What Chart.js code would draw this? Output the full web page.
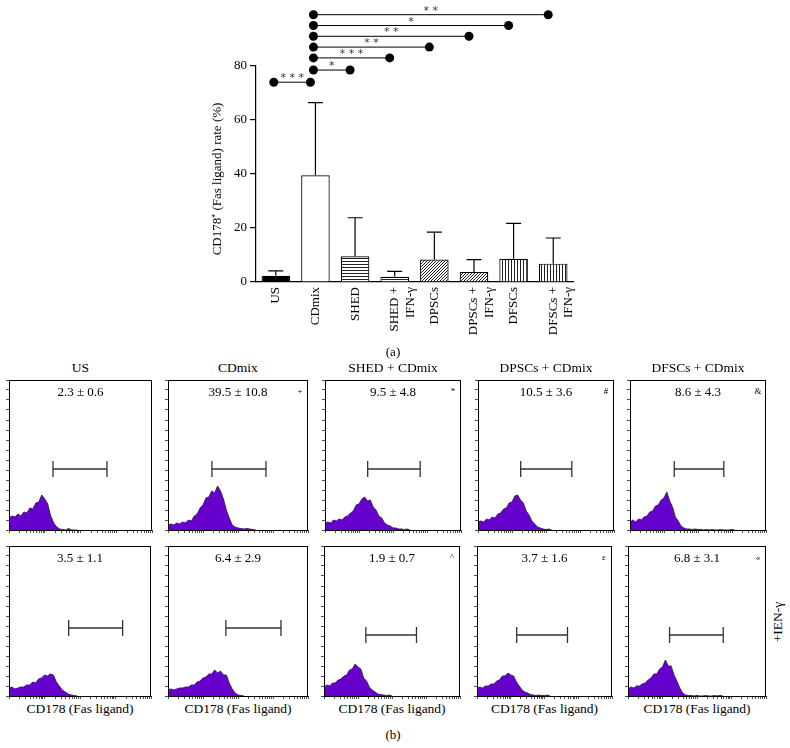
<!DOCTYPE html>
<html lang="en">
<head>
<meta charset="UTF-8">
<title>CD178 (Fas ligand) expression</title>
<script src="https://cdn.jsdelivr.net/npm/chart.js"></script>
<style>
  body { margin: 0; background: #fff; color: #000; font-family: "Liberation Serif", serif; }
  #fig { position: relative; width: 790px; height: 748px; overflow: hidden; }
  #fig canvas { position: absolute; }
  .lbl { position: absolute; white-space: nowrap; transform: translate(-50%, -50%); font-size: 13px; line-height: 1; }
</style>
</head>
<body>
<div id="fig"></div>
<script>
// ---- (a) bar chart data
const groups = ['US', 'CDmix', 'SHED', ['SHED +', 'IFN-γ'], 'DPSCs', ['DPSCs +', 'IFN-γ'], 'DFSCs', ['DFSCs +', 'IFN-γ']];
const meanRate = [2.3, 39.5, 9.5, 1.9, 8.3, 3.7, 8.6, 6.8];
const sdRate = [1.8, 26.9, 14.3, 2.0, 10.2, 4.6, 13.1, 9.5];
const yTicks = [0, 20, 40, 60, 80];
const fillKind = ['solid', 'white', 'h', 'h', 'd', 'd', 'v', 'v'];

// significance brackets (category index from / to, level in %, stars)
const sigFrom = [0, 1, 1, 1, 1, 1, 1];
const sigTo = [1, 2, 3, 4, 5, 6, 7];
const sigLevel = [74, 78.5, 83, 87, 91, 95, 99];
const sigStars = ['***', '*', '***', '**', '**', '*', '**'];

// ---- (b) flow histograms
const panelTitles = ['US', 'CDmix', 'SHED + CDmix', 'DPSCs + CDmix', 'DFSCs + CDmix'];
const statsTop = ['2.3 ± 0.6', '39.5 ± 10.8', '9.5 ± 4.8', '10.5 ± 3.6', '8.6 ± 4.3'];
const marksTop = ['', '+', '*', '#', '&'];
const statsIfn = ['3.5 ± 1.1', '6.4 ± 2.9', '1.9 ± 0.7', '3.7 ± 1.6', '6.8 ± 3.1'];
const marksIfn = ['', '', '^', 'ε', '«'];

// gate limits on the CD178 channel and gate height (counts)
const gateTopLo = [17, 18, 18, 18, 20];
const gateTopHi = [550, 630, 630, 575, 575];
const gateTopY = [61, 61, 61, 61, 61];
const gateIfnLo = [48, 45, 17, 15, 16];
const gateIfnHi = [1585, 1690, 525, 480, 575];
const gateIfnY = [68, 68, 61, 61, 61];

// event counts per channel bin (48 bins across the axis)
const histUS = [12, 14, 13, 16, 14, 18, 17, 22, 21, 27, 28, 35, 31, 26, 14, 7, 3, 1, 0.5, 0, 1.5, 0, 0, 0];
const histCD = [5, 6, 5, 7, 6, 8, 7, 10, 9, 14, 16, 22, 25, 32, 33, 39, 37, 44, 39, 31, 20, 12, 5, 3, 2, 1.5, 1, 1.5, 1, 0.5, 0];
const histSHED = [7, 8, 7, 10, 9, 11, 10, 13, 14, 17, 19, 25, 26, 31, 33, 29, 30, 23, 20, 14, 12, 7, 5, 4, 2, 2, 1, 1, 0.5, 1, 0];
const histDPSC = [8, 9, 8, 11, 10, 13, 12, 16, 17, 21, 22, 27, 28, 34, 35, 30, 27, 19, 15, 9, 6, 3, 2, 1, 0.5, 1, 0];
const histDFSC = [8, 10, 8, 11, 10, 13, 14, 18, 19, 24, 25, 30, 32, 38, 29, 23, 13, 9, 4, 2, 1, 1, 0.5, 1, 0.5, 0.5, 0, 0.5, 0, 0.5, 0, 0, 0.5, 0, 0, 0, 0.5, 0];
const histUSi = [8, 9, 7, 8, 9, 9, 11, 11, 14, 13, 17, 18, 21, 20, 22, 21, 14, 10, 6, 4, 2, 1, 0.5, 0];
const histCDi = [6, 7, 6, 7, 8, 8, 9, 9, 11, 11, 14, 15, 18, 19, 22, 22, 26, 23, 25, 21, 21, 13, 7, 3, 1, 0.5, 0];
const histSHEDi = [9, 11, 10, 13, 13, 16, 17, 20, 21, 26, 27, 32, 29, 27, 18, 15, 9, 6, 4, 2, 1.5, 1, 0.5, 1, 0];
const histDPSCi = [8, 9, 8, 10, 10, 12, 12, 15, 16, 20, 20, 23, 21, 20, 14, 10, 6, 4, 3, 1.5, 1, 0.5, 1, 0.5, 0.5, 1, 0];
const histDFSCi = [7, 9, 8, 10, 10, 12, 13, 16, 18, 22, 22, 27, 29, 36, 30, 30, 21, 15, 8, 3, 1, 0.5, 0.5, 0, 0.5, 0, 0, 0.5, 0, 0, 0.5, 0, 0.5, 0];

const histTop = [histUS, histCD, histSHED, histDPSC, histDFSC];
const histIfn = [histUSi, histCDi, histSHEDi, histDPSCi, histDFSCi];

const FONT = '"Liberation Serif", serif';
const fig = document.getElementById('fig');
Chart.defaults.font.family = FONT;
Chart.defaults.color = '#000';

function addLabel(text, x, y, size, rotate) {
    const d = document.createElement('div');
    d.className = 'lbl';
    d.textContent = text;
    d.style.left = x + 'px';
    d.style.top = y + 'px';
    if (size) d.style.fontSize = size + 'px';
    if (rotate) d.style.transform = 'translate(-50%, -50%) rotate(' + rotate + 'deg)';
    fig.appendChild(d);
}

function makeFill(ctx, kind) {
    if (kind === 'solid') return '#000';
    if (kind === 'white') return '#fff';
    const c = document.createElement('canvas');
    c.width = 3; c.height = 3;
    const g = c.getContext('2d');
    g.fillStyle = '#fff';
    g.fillRect(0, 0, 3, 3);
    g.fillStyle = '#222';
    if (kind === 'h') g.fillRect(0, 0, 3, 1);
    if (kind === 'v') g.fillRect(0, 0, 1, 3);
    if (kind === 'd') { g.fillRect(0, 2, 1, 1); g.fillRect(1, 1, 1, 1); g.fillRect(2, 0, 1, 1); }
    return ctx.createPattern(c, 'repeat');
}

// ---------- (a)
const barCanvas = document.createElement('canvas');
barCanvas.width = 400; barCanvas.height = 345;
barCanvas.style.left = '190px'; barCanvas.style.top = '0px';
fig.appendChild(barCanvas);
const bctx = barCanvas.getContext('2d');

const barExtras = {
    id: 'barExtras',
    afterDatasetsDraw(chart) {
        const { ctx, scales: { y } } = chart;
        ctx.save();
        ctx.strokeStyle = '#000';
        ctx.lineWidth = 1.2;
        chart.getDatasetMeta(0).data.forEach((bar, i) => {
            const y0 = y.getPixelForValue(meanRate[i]);
            const y1 = y.getPixelForValue(meanRate[i] + sdRate[i]);
            ctx.beginPath();
            ctx.moveTo(bar.x, y0); ctx.lineTo(bar.x, y1);
            ctx.moveTo(bar.x - 7.5, y1); ctx.lineTo(bar.x + 7.5, y1);
            ctx.stroke();
        });
        ctx.restore();
    },
    afterDraw(chart) {
        const { ctx, chartArea, scales: { x, y } } = chart;
        ctx.save();
        // y title
        ctx.translate(chartArea.left - 38, (chartArea.top + chartArea.bottom) / 2 + 5);
        ctx.rotate(-Math.PI / 2);
        ctx.font = '13px ' + FONT;
        ctx.textAlign = 'center';
        ctx.textBaseline = 'middle';
        ctx.fillStyle = '#000';
        ctx.fillText('CD178⁺ (Fas ligand) rate (%)', 0, 0);
        ctx.restore();

        ctx.save();
        ctx.strokeStyle = '#000';
        ctx.fillStyle = '#000';
        ctx.lineWidth = 1;
        sigFrom.forEach((a, k) => {
            const xa = x.getPixelForValue(a) - 2;
            const xb = x.getPixelForValue(sigTo[k]) - 5;
            const yy = y.getPixelForValue(sigLevel[k]);
            ctx.beginPath();
            ctx.moveTo(xa, yy); ctx.lineTo(xb, yy);
            ctx.stroke();
            [xa, xb].forEach(px => {
                ctx.beginPath();
                ctx.arc(px, yy, 4.5, 0, Math.PI * 2);
                ctx.fill();
            });
            ctx.font = '11px "DejaVu Sans", sans-serif';
            ctx.textAlign = 'center';
            ctx.textBaseline = 'alphabetic';
            ctx.fillStyle = '#333';
            ctx.fillText(sigStars[k].split('').join(' '), (xa + xb) / 2, yy - 1);
            ctx.fillStyle = '#000';
        });
        ctx.restore();
    }
};

new Chart(bctx, {
    type: 'bar',
    data: {
        labels: groups,
        datasets: [{
            data: meanRate,
            backgroundColor: fillKind.map(k => makeFill(bctx, k)),
            borderColor: '#000',
            borderWidth: 1.2,
            barPercentage: 0.72,
            categoryPercentage: 1.0
        }]
    },
    options: {
        responsive: false,
        animation: false,
        events: [],
        layout: { padding: { top: 66, right: 9, left: 0, bottom: 0 } },
        plugins: { legend: { display: false }, tooltip: { enabled: false } },
        scales: {
            x: {
                afterFit: s => { s.height = 63; },
                grid: { drawOnChartArea: false, drawTicks: false },
                border: { color: '#000', width: 1.2 },
                ticks: { minRotation: 90, maxRotation: 90, padding: 5, font: { size: 13 }, color: '#000', autoSkip: false }
            },
            y: {
                min: 0, max: 80,
                afterFit: s => { s.width = 66; },
                afterBuildTicks: s => { s.ticks = yTicks.map(v => ({ value: v })); },
                grid: { drawOnChartArea: false, tickLength: 6, color: '#000', lineWidth: 1.2 },
                border: { color: '#000', width: 1.2 },
                ticks: { padding: 3, font: { size: 13 }, color: '#000' }
            }
        }
    },
    plugins: [barExtras]
});

addLabel('(a)', 393, 351, 13);

// ---------- (b)
const logTicks = [];
for (let e = 0; e < 4; e++) for (let m = 1; m < 10; m++) logTicks.push(m * Math.pow(10, e));
logTicks.push(10000);

const rowTop = [380, 546];
const rowBottom = [530, 696];
const panelLeft = [[9, 168, 325, 478, 630], [9, 168, 324, 477, 628]];
const panelRight = [[152, 308, 461, 614, 766], [151, 308, 460, 612, 766]];

const panelDeco = {
    id: 'panelDeco',
    afterDraw(chart, args, o) {
        const { ctx, chartArea: ca, scales } = chart;
        ctx.save();
        ctx.strokeStyle = '#000';
        ctx.lineWidth = 1;
        ctx.strokeRect(ca.left + 0.5, ca.top + 0.5, ca.right - ca.left - 1, ca.bottom - ca.top);
        // gate
        const gx0 = scales.xl.getPixelForValue(o.lo);
        const gx1 = scales.xl.getPixelForValue(o.hi);
        const gy = scales.y.getPixelForValue(o.gy);
        ctx.strokeStyle = '#333';
        ctx.lineWidth = 1.3;
        ctx.beginPath();
        ctx.moveTo(gx0, gy); ctx.lineTo(gx1, gy);
        ctx.moveTo(gx0, gy - 8); ctx.lineTo(gx0, gy + 8);
        ctx.moveTo(gx1, gy - 8); ctx.lineTo(gx1, gy + 8);
        ctx.stroke();
        // stats text
        ctx.fillStyle = '#000';
        ctx.font = '13px ' + FONT;
        ctx.textAlign = 'center';
        ctx.textBaseline = 'middle';
        ctx.fillText(o.stat, (ca.left + ca.right) / 2, ca.top + 13);
        if (o.mark) {
            ctx.font = '9px ' + FONT;
            ctx.fillText(o.mark, ca.right - 8, ca.top + 12);
        }
        ctx.restore();
    }
};

function makePanel(row, col) {
    const L = panelLeft[row][col], R = panelRight[row][col];
    const T = rowTop[row], B = rowBottom[row];
    const cv = document.createElement('canvas');
    cv.width = (R - L) + 5;
    cv.height = (B - T) + 5;
    cv.style.left = (L - 4) + 'px';
    cv.style.top = (T - 1) + 'px';
    fig.appendChild(cv);
    const hist = row === 0 ? histTop[col] : histIfn[col];
    new Chart(cv.getContext('2d'), {
        type: 'line',
        data: {
            datasets: [{
                data: hist.map((v, i) => ({ x: i, y: v })),
                fill: 'origin',
                backgroundColor: '#6600cc',
                borderColor: '#333',
                borderWidth: 1,
                pointRadius: 0,
                tension: 0
            }]
        },
        options: {
            responsive: false,
            animation: false,
            events: [],
            layout: { padding: { top: 1, right: 1, left: 0, bottom: 0 } },
            plugins: {
                legend: { display: false },
                tooltip: { enabled: false },
                panelDeco: row === 0
                    ? { stat: statsTop[col], mark: marksTop[col], lo: gateTopLo[col], hi: gateTopHi[col], gy: gateTopY[col] }
                    : { stat: statsIfn[col], mark: marksIfn[col], lo: gateIfnLo[col], hi: gateIfnHi[col], gy: gateIfnY[col] }
            },
            scales: {
                x: { type: 'linear', display: false, min: 0, max: 48 },
                xl: {
                    type: 'logarithmic', axis: 'x', position: 'bottom', min: 1, max: 10000,
                    afterBuildTicks: s => { s.ticks = logTicks.map(v => ({ value: v })); },
                    afterFit: s => { s.height = 4; },
                    ticks: { display: false },
                    grid: { drawOnChartArea: false, tickLength: 3, color: '#000', lineWidth: 0.7 },
                    border: { color: '#000', width: 1 }
                },
                y: {
                    min: 0, max: 150,
                    afterFit: s => { s.width = 4; },
                    ticks: { display: false, stepSize: 10 },
                    grid: { drawOnChartArea: false, tickLength: 3, color: '#000', lineWidth: 0.7 },
                    border: { color: '#000', width: 1 }
                }
            }
        },
        plugins: [panelDeco]
    });
}

for (let r = 0; r < 2; r++) for (let c = 0; c < 5; c++) makePanel(r, c);

panelTitles.forEach((t, c) => {
    addLabel(t, (panelLeft[0][c] + panelRight[0][c]) / 2, 368, 13.5);
    addLabel('CD178 (Fas ligand)', (panelLeft[1][c] + panelRight[1][c]) / 2, 709, 13.5);
});
addLabel('+IEN-γ', 778, 622, 13.5, -90);
addLabel('(b)', 393, 734, 13);
</script>
</body>
</html>
